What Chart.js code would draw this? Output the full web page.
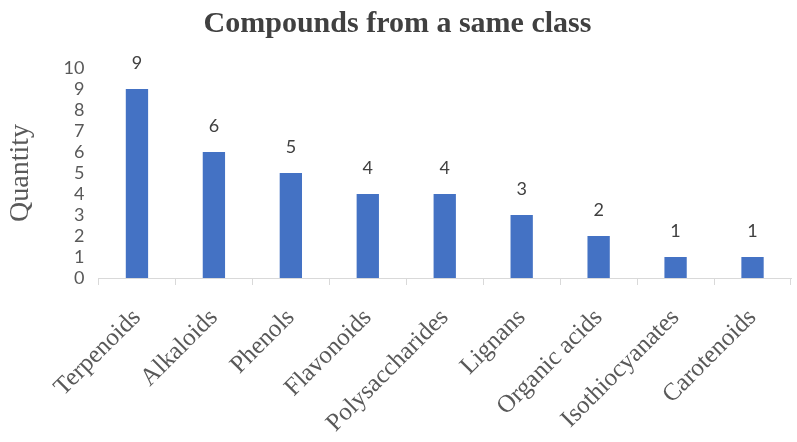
<!DOCTYPE html>
<html>
<head>
<meta charset="utf-8">
<script src="https://cdn.jsdelivr.net/npm/chart.js@4"></script>
<style>
  html, body { margin: 0; padding: 0; background: #fff; }
  #wrap { width: 797px; height: 442px; }
</style>
</head>
<body>
<div id="wrap"><canvas id="classChart" width="797" height="442"></canvas></div>
<script>
const categories = ['Terpenoids', 'Alkaloids', 'Phenols', 'Flavonoids', 'Polysaccharides', 'Lignans', 'Organic acids', 'Isothiocyanates', 'Carotenoids'];
const quantities = [9, 6, 5, 4, 4, 3, 2, 1, 1];
const yTicks = [0, 1, 2, 3, 4, 5, 6, 7, 8, 9, 10];

// draws the value above each bar
const valueLabels = {
    id: 'valueLabels',
    afterDatasetsDraw: function (chart) {
        const c = chart.ctx;
        const meta = chart.getDatasetMeta(0);
        c.save();
        c.font = '18px Lato, "Noto Sans", sans-serif';
        c.fillStyle = '#404040';
        c.textAlign = 'center';
        c.textBaseline = 'middle';
        meta.data.forEach(function (bar, i) {
            c.fillText(chart.data.datasets[0].data[i], bar.x, bar.y - 26);
        });
        c.restore();
    }
};

document.addEventListener('DOMContentLoaded', function () {
    const ctx = document.getElementById('classChart').getContext('2d');
    new Chart(ctx, {
        type: 'bar',
        data: {
            labels: categories,
            datasets: [{
                data: quantities,
                backgroundColor: '#4472c4',
                barPercentage: 0.29,
                categoryPercentage: 1.0
            }]
        },
        options: {
            responsive: false,
            animation: false,
            layout: { padding: { left: 4, right: 6, top: 0, bottom: 0 } },
            plugins: {
                legend: { display: false },
                tooltip: { enabled: false },
                title: {
                    display: true,
                    text: 'Compounds from a same class',
                    color: '#404040',
                    font: { family: '"Liberation Serif", "Times New Roman", serif', size: 30, weight: 'bold' },
                    padding: { top: 6, bottom: 26 }
                }
            },
            scales: {
                x: {
                    border: { display: true, color: '#d9d9d9' },
                    grid: { display: true, offset: true, drawOnChartArea: false, drawTicks: true, tickLength: 7, color: '#d9d9d9' },
                    afterFit: function (scale) { scale.height = 164; },
                    ticks: {
                        minRotation: 45,
                        maxRotation: 45,
                        autoSkip: false,
                        color: '#595959',
                        padding: 18,
                        font: { family: '"Liberation Serif", "Times New Roman", serif', size: 25 }
                    }
                },
                y: {
                    min: 0,
                    max: 10,
                    border: { display: false },
                    grid: { display: false },
                    afterBuildTicks: function (axis) {
                        axis.ticks = yTicks.map(function (v) { return { value: v }; });
                    },
                    ticks: {
                        autoSkip: false,
                        color: '#595959',
                        padding: 6,
                        font: { family: 'Lato, "Noto Sans", sans-serif', size: 18 }
                    },
                    title: {
                        display: true,
                        text: 'Quantity',
                        color: '#595959',
                        padding: { top: 0, bottom: 20 },
                        font: { family: '"Liberation Serif", "Times New Roman", serif', size: 28 }
                    }
                }
            }
        },
        plugins: [valueLabels]
    });
});
</script>
</body>
</html>
